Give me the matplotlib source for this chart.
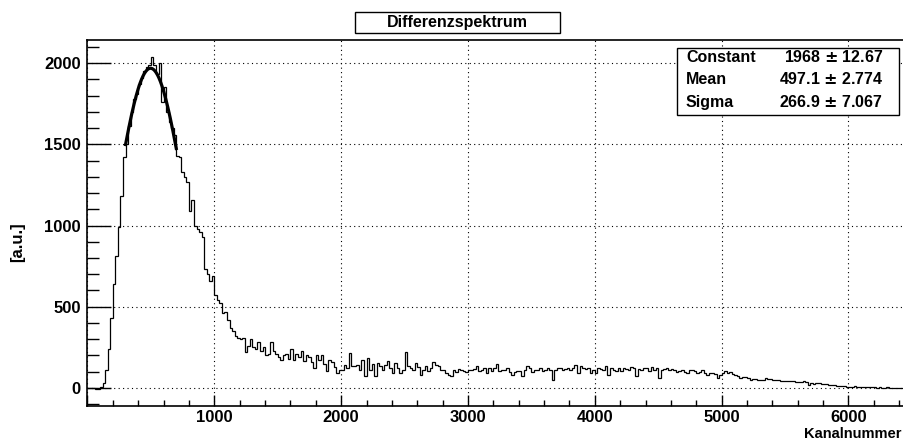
import numpy as np
import matplotlib
matplotlib.use("Agg")
import matplotlib.pyplot as plt
from matplotlib.ticker import MultipleLocator

plt.rcParams['font.family'] = ['Liberation Sans', 'DejaVu Sans']
plt.rcParams['font.weight'] = 'bold'

# histogram: 20 channel bins starting at channel 0
bin_width = 20
counts = [
    0, 0, 2, -6, -4, 5, 30, 110, 240, 430,
    640, 810, 990, 1180, 1420, 1500, 1610, 1700, 1780, 1810,
    1870, 1910, 1950, 1975, 1990, 2040, 1990, 1930, 2000, 1760,
    1850, 1700, 1640, 1600, 1560, 1430, 1420, 1330, 1300, 1270,
    1090, 1160, 1000, 980, 960, 930, 730, 700, 660, 690,
    570, 540, 520, 460, 470, 420, 370, 350, 320, 310,
    300, 310, 220, 260, 300, 250, 240, 280, 230, 250,
    200, 210, 280, 230, 210, 190, 170, 200, 210, 180,
    240, 170, 210, 190, 230, 165, 200, 190, 160, 120,
    200, 170, 205, 150, 105, 170, 160, 130, 90, 110,
    112, 143, 120, 215, 133, 133, 143, 110, 174, 72,
    184, 112, 150, 72, 153, 133, 112, 140, 164, 120,
    92, 153, 120, 92, 112, 219, 133, 120, 112, 153,
    130, 82, 112, 133, 102, 120, 157, 140, 133, 112,
    112, 92, 80, 72, 112, 100, 117, 110, 102, 96,
    112, 110, 117, 133, 102, 110, 123, 92, 123, 102,
    123, 150, 102, 112, 112, 120, 96, 82, 100, 102,
    102, 76, 110, 133, 120, 96, 110, 112, 120, 102,
    110, 123, 112, 51, 112, 120, 123, 110, 117, 125,
    112, 120, 143, 92, 133, 120, 117, 125, 92, 110,
    92, 123, 118, 112, 133, 82, 123, 110, 102, 123,
    102, 123, 118, 112, 129, 120, 72, 117, 110, 123,
    120, 102, 129, 112, 120, 61, 112, 118, 123, 110,
    117, 110, 96, 105, 112, 100, 92, 110, 112, 102,
    92, 100, 108, 95, 82, 90, 92, 85, 61, 80,
    95, 102, 90, 96, 85, 82, 75, 61, 70, 67,
    60, 51, 55, 58, 47, 52, 51, 61, 55, 57,
    47, 50, 51, 45, 41, 45, 45, 40, 41, 38,
    35, 38, 41, 35, 20, 30, 27, 31, 33, 25,
    25, 22, 20, 18, 18, 14, 15, 12, 10, 9,
    6, 8, 10, 7, 6, 5, 4, 6, 4, 3,
    4, 2, 3, 2, 2, 3, 1, 2, 0, 2,
    0, 1,
]

# gaussian fit result
fit_names = ["Constant", "Mean", "Sigma"]
fit_values = [1968, 497.1, 266.9]
fit_errors = [12.67, 2.774, 7.067]
fit_range = [300, 700]

edges = np.arange(len(counts) + 1) * bin_width

fig = plt.figure(figsize=(9.04, 4.41), dpi=100)
ax = fig.add_axes([87.5 / 904, 35 / 441, 818 / 904, 366.5 / 441])

ax.stairs(counts, edges, color='black', lw=0.9, baseline=None)

xf = np.linspace(fit_range[0], fit_range[1], 200)
yf = fit_values[0] * np.exp(-0.5 * ((xf - fit_values[1]) / fit_values[2]) ** 2)
ax.plot(xf, yf, color='black', lw=2.3)

ax.set_xlim(0, 6450)
ax.set_ylim(-111, 2145)

ax.xaxis.set_major_locator(MultipleLocator(1000))
ax.xaxis.set_minor_locator(MultipleLocator(200))
ax.yaxis.set_major_locator(MultipleLocator(500))
ax.yaxis.set_minor_locator(MultipleLocator(100))
ax.tick_params(axis='x', which='major', direction='in', length=8, width=1, labelsize=12, pad=3)
ax.tick_params(axis='x', which='minor', direction='in', length=4, width=1)
ax.tick_params(axis='y', which='major', direction='in', length=17, width=1, labelsize=12, pad=5)
ax.tick_params(axis='y', which='minor', direction='in', length=8.5, width=1)
for lab in ax.get_xticklabels() + ax.get_yticklabels():
    lab.set_fontweight('bold')
ax.set_xticklabels([str(int(t)) if t > 0 else '' for t in ax.get_xticks()])

ax.grid(True, which='major', color='black', linestyle=(0, (1, 3)), lw=0.8)
for s in ax.spines.values():
    s.set_linewidth(1.2)

fig.text(902 / 904, 1 - 434 / 441, "Kanalnummer", ha='right', va='center',
         fontsize=10.5, fontweight='bold')
fig.text(18 / 904, 1 - 242 / 441, "[a.u.]", ha='center', va='center',
         rotation=90, fontsize=12, fontweight='bold')

# title box
fig.patches.append(plt.Rectangle((355 / 904, 1 - 33 / 441), 205 / 904, 21 / 441,
                                 transform=fig.transFigure, fc='white',
                                 ec='black', lw=1))
fig.text(457 / 904, 1 - 22.5 / 441, "Differenzspektrum", ha='center', va='center',
         fontsize=11.5, fontweight='bold')

# stats box
fig.patches.append(plt.Rectangle((677 / 904, 1 - 115 / 441), 222 / 904, 67 / 441,
                                 transform=fig.transFigure, fc='white',
                                 ec='black', lw=1, zorder=5))
rows_y = [57, 79, 102]
for name, val, err, yy in zip(fit_names, fit_values, fit_errors, rows_y):
    fig.text(686 / 904, 1 - yy / 441, name, ha='left', va='center',
             fontsize=11.5, fontweight='bold', zorder=6)
    fig.text(883 / 904, 1 - yy / 441, f"{val:g} $\\pm$ {err:.4g}", ha='right',
             va='center', fontsize=11.5, fontweight='bold', zorder=6)

fig.savefig("out.png", dpi=100)
